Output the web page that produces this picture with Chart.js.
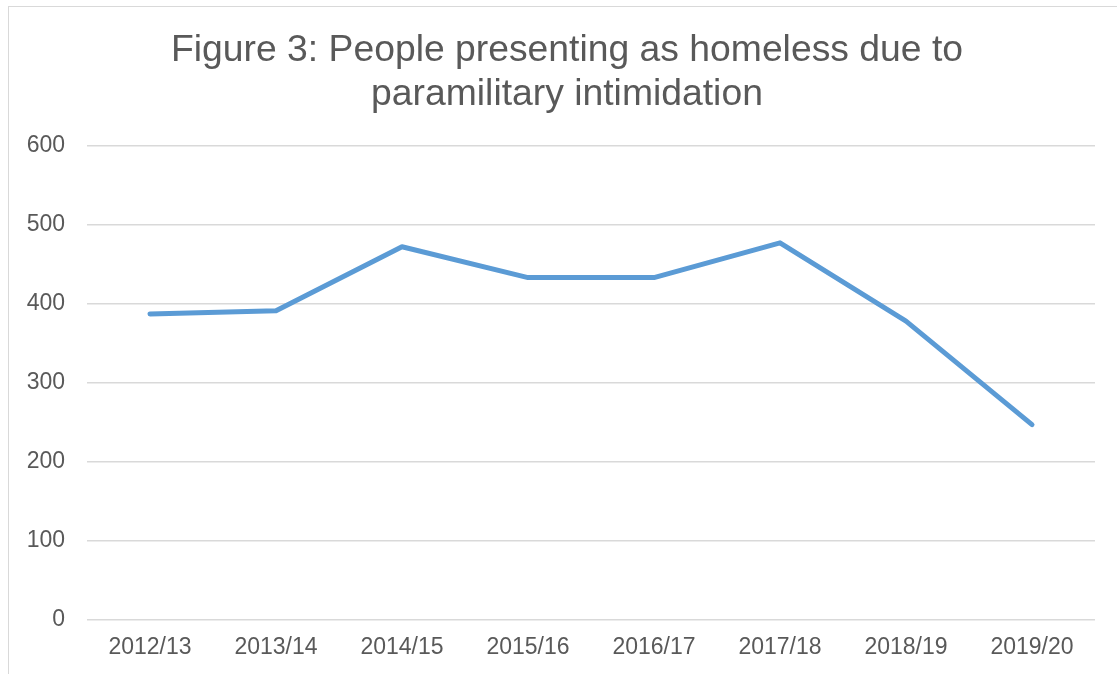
<!DOCTYPE html>
<html>
<head>
<meta charset="utf-8">
<script src="https://cdn.jsdelivr.net/npm/chart.js@4/dist/chart.umd.min.js"></script>
<style>
  html, body { margin: 0; padding: 0; background: #fff; overflow: hidden; }
  #wrap { position: absolute; left: 0; top: 0; width: 1117px; height: 674px; }
  #frame { position: absolute; left: 8px; top: 6px; width: 2000px; height: 2000px;
           border-left: 1.5px solid #d9d9d9; border-top: 1.5px solid #d9d9d9; pointer-events: none; }
</style>
</head>
<body>
<div id="wrap"><canvas id="c" width="1117" height="674"></canvas></div>
<div id="frame"></div>
<script>
const categories = ["2012/13", "2013/14", "2014/15", "2015/16", "2016/17", "2017/18", "2018/19", "2019/20"];
const values = [387, 391, 472, 433, 433, 477, 378, 247];
const titleLines = ["Figure 3: People presenting as homeless due to", "paramilitary intimidation"];
const yMin = 0, yMax = 600, yStep = 100;

const textColor = "#595959";
const font = "Arial, 'Liberation Sans', sans-serif";

// shift the title block so its centre matches the reference frame's centre
const titleShift = {
  id: "titleShift",
  afterLayout(chart) {
    if (chart.titleBlock) chart.titleBlock.left = 39;
  }
};

new Chart(document.getElementById("c"), {
  type: "line",
  data: {
    labels: categories,
    datasets: [{
      data: values,
      borderColor: "#5B9BD5",
      borderWidth: 5,
      borderCapStyle: "round",
      borderJoinStyle: "round",
      pointRadius: 0,
      pointHoverRadius: 0,
      tension: 0,
      fill: false
    }]
  },
  plugins: [titleShift],
  options: {
    responsive: false,
    animation: false,
    devicePixelRatio: 1,
    layout: { padding: { left: 0, right: 22, top: 0, bottom: 0 } },
    plugins: {
      legend: { display: false },
      tooltip: { enabled: false },
      title: {
        display: true,
        text: titleLines,
        color: textColor,
        font: { family: font, size: 37.3, weight: "normal", lineHeight: 1.2 },
        padding: { top: 28, bottom: 28 }
      }
    },
    scales: {
      x: {
        offset: true,
        grid: { display: false, drawTicks: false },
        border: { display: false },
        ticks: { color: textColor, font: { family: font, size: 23 }, padding: 14, maxRotation: 0 },
        afterFit: (s) => { s.height = 54; }
      },
      y: {
        min: yMin, max: yMax,
        grid: { color: "#d9d9d9", lineWidth: 1.5, drawTicks: false },
        border: { display: false },
        ticks: { stepSize: yStep, color: textColor, font: { family: font, size: 23 }, padding: 22 },
        afterFit: (s) => { s.width = 87; }
      }
    }
  }
});
</script>
</body>
</html>
